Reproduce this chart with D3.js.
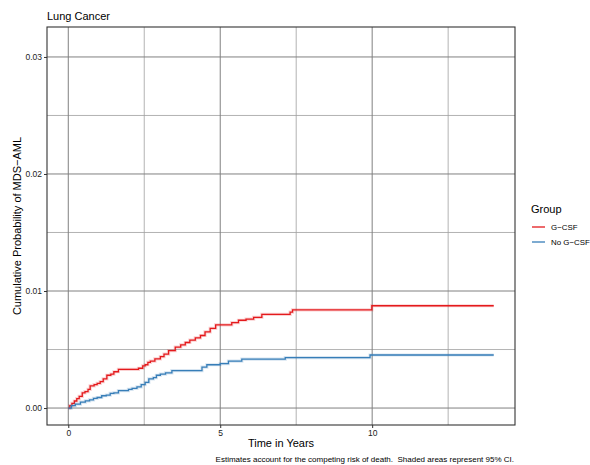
<!DOCTYPE html>
<html><head><meta charset="utf-8">
<script src="https://cdn.jsdelivr.net/npm/d3@7"></script>
<style>body{margin:0;background:#fff}svg{display:block;font-family:"Liberation Sans",Arial,Helvetica,sans-serif}</style>
</head><body>
<script>
// ---- data ----
const title = "Lung Cancer";
const groups = ["G\u2212CSF", "No G\u2212CSF"];
const gcsfTime = [0,0.05,0.12,0.2,0.28,0.36,0.46,0.55,0.65,0.72,0.85,0.95,1.05,1.15,1.27,1.4,1.5,1.65,2.31,2.45,2.53,2.62,2.7,2.85,3.03,3.15,3.3,3.52,3.7,3.85,4.0,4.18,4.35,4.5,4.67,4.85,5.38,5.6,5.85,6.1,6.37,7.3,7.38,9.99,14.0];
const gcsfProb = [0,0.0002,0.0004,0.0006,0.0008,0.001,0.0013,0.0014,0.0016,0.0019,0.002,0.0021,0.00225,0.0025,0.0028,0.0029,0.0031,0.0033,0.0034,0.0036,0.0037,0.0039,0.004,0.0042,0.0044,0.0046,0.0049,0.0052,0.0054,0.0056,0.0058,0.006,0.0062,0.0065,0.0068,0.0071,0.0073,0.0075,0.0076,0.00775,0.008,0.0082,0.00838,0.00874,0.00874];
const nogTime = [0,0.1,0.23,0.4,0.56,0.7,0.83,0.95,1.1,1.25,1.38,1.5,1.65,1.98,2.1,2.26,2.4,2.53,2.65,2.8,2.9,3.03,3.2,3.41,4.4,4.56,5.0,5.27,5.71,7.14,9.93,14.0];
const nogProb = [0,0.0002,0.00034,0.0005,0.00062,0.0007,0.00083,0.0009,0.00105,0.0011,0.00125,0.0013,0.00148,0.0016,0.00168,0.0018,0.002,0.0022,0.0025,0.0026,0.0028,0.0029,0.003,0.0032,0.0035,0.0037,0.0038,0.004,0.00418,0.0043,0.00453,0.00453];
const xTicks = [0,5,10];
const xMinor = [2.5,7.5,12.5];
const yTicks = [0,0.01,0.02,0.03];
const yMinor = [0.005,0.015,0.025];
const colors = ["#E41A1C","#377EB8"];
const xLabel = "Time in Years";
const yLabel = "Cumulative Probability of MDS\u2212AML";
const caption = "Estimates account for the competing risk of death.  Shaded areas represent 95% CI.";

// ---- layout ----
const W = 590, H = 465;
const P = {l:47, r:515, t:27, b:425};
const svg = d3.select("body").append("svg").attr("width",W).attr("height",H);
const x = d3.scaleLinear().domain([-0.7,14.7]).range([P.l,P.r]);
const y = d3.scaleLinear().domain([-0.00145,0.03256]).range([P.b,P.t]);

const grid = svg.append("g");
xMinor.forEach(v=>grid.append("line").attr("x1",x(v)).attr("x2",x(v)).attr("y1",P.t).attr("y2",P.b).attr("stroke","#a0a0a0").attr("stroke-width",0.8));
yMinor.forEach(v=>grid.append("line").attr("y1",y(v)).attr("y2",y(v)).attr("x1",P.l).attr("x2",P.r).attr("stroke","#a0a0a0").attr("stroke-width",0.8));
xTicks.forEach(v=>grid.append("line").attr("x1",x(v)).attr("x2",x(v)).attr("y1",P.t).attr("y2",P.b).attr("stroke","#808080").attr("stroke-width",1));
yTicks.forEach(v=>grid.append("line").attr("y1",y(v)).attr("y2",y(v)).attr("x1",P.l).attr("x2",P.r).attr("stroke","#808080").attr("stroke-width",1));

const series = [
  {name:groups[0], t:gcsfTime, p:gcsfProb, c:colors[0]},
  {name:groups[1], t:nogTime, p:nogProb, c:colors[1]}
];
const line = d3.line().x(d=>x(d[0])).y(d=>y(d[1])).curve(d3.curveStepAfter);
series.forEach(s=>{
  const pts = s.t.map((t,i)=>[t,s.p[i]]);
  svg.append("path").attr("d",line(pts)).attr("fill","none").attr("stroke",s.c).attr("stroke-opacity",0.2).attr("stroke-width",3.2);
  svg.append("path").attr("d",line(pts)).attr("fill","none").attr("stroke",s.c).attr("stroke-width",1.3);
});

svg.append("rect").attr("x",P.l).attr("y",P.t).attr("width",P.r-P.l).attr("height",P.b-P.t).attr("fill","none").attr("stroke","#333").attr("stroke-width",1.1);

const xa = svg.append("g").attr("transform",`translate(0,${P.b})`).call(d3.axisBottom(x).tickValues(xTicks).tickFormat(d3.format("d")).tickSize(3).tickPadding(2));
const ya = svg.append("g").attr("transform",`translate(${P.l},0)`).call(d3.axisLeft(y).tickValues(yTicks).tickFormat(d3.format(".2f")).tickSize(3).tickPadding(2));
[xa,ya].forEach(a=>{a.select(".domain").remove();a.selectAll(".tick line").attr("stroke","#333");a.selectAll("text").attr("fill","#222").style("font-size","8.5px").style("font-family","Liberation Sans, Arial, sans-serif");});

svg.append("text").attr("x",P.l).attr("y",20).text(title).style("font-size","11px").attr("fill","#000");
svg.append("text").attr("x",(P.l+P.r)/2).attr("y",447).attr("text-anchor","middle").text(xLabel).style("font-size","11px");
svg.append("text").attr("transform",`translate(21,${(P.t+P.b)/2}) rotate(-90)`).attr("text-anchor","middle").text(yLabel).style("font-size","11px");
svg.append("text").attr("x",514).attr("y",462).attr("text-anchor","end").style("white-space","pre").text(caption).style("font-size","8px");

const lg = svg.append("g");
lg.append("text").attr("x",531).attr("y",213).text("Group").style("font-size","11px");
series.forEach((s,i)=>{
  const yy = 227 + i*15;
  lg.append("line").attr("x1",532).attr("x2",545).attr("y1",yy).attr("y2",yy).attr("stroke",s.c).attr("stroke-width",1.3);
  lg.append("text").attr("x",551).attr("y",yy+3).text(s.name).style("font-size","7.9px");
});
</script>
</body></html>
